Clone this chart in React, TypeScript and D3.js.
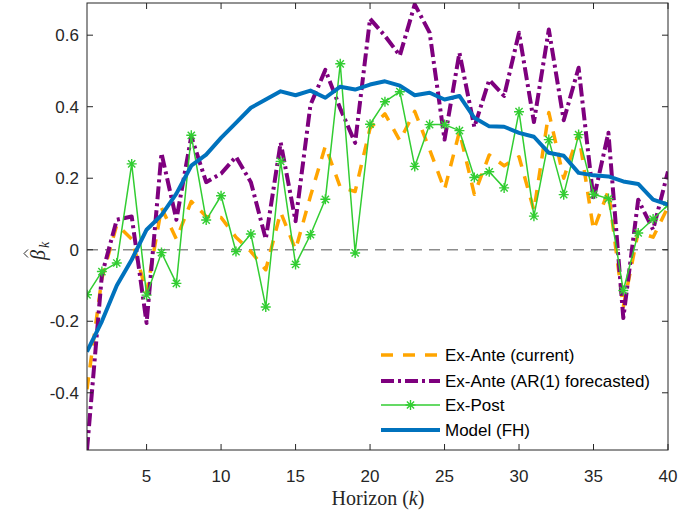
import React from "react";
import * as d3 from "d3";

const horizons = [1,2,3,4,5,6,7,8,9,10,11,12,13,14,15,16,17,18,19,20,21,22,23,24,25,26,27,28,29,30,31,32,33,34,35,36,37,38,39,40];

const exAnteCurrent = [-0.39,-0.08,0.07,0.03,-0.12,0.117,0.03,0.135,0.093,0.09,0.035,-0.005,-0.056,0.105,0.0,0.15,0.29,0.175,0.163,0.34,0.38,0.305,0.387,0.28,0.168,0.33,0.155,0.265,0.235,0.26,0.11,0.384,0.2,0.325,0.055,0.165,-0.16,0.05,0.035,0.12];

const exAnteAR1 = [-0.56,-0.07,0.084,0.093,-0.205,0.27,0.084,0.317,0.189,0.213,0.26,0.189,0.03,0.3,0.08,0.405,0.503,0.395,0.299,0.646,0.598,0.543,0.686,0.607,0.308,0.551,0.343,0.475,0.43,0.607,0.357,0.616,0.362,0.509,0.14,0.327,-0.191,0.14,0.056,0.219];

const exPost = [-0.126,-0.061,-0.037,0.24,-0.127,-0.008,-0.094,0.32,0.083,0.151,-0.005,0.044,-0.16,0.247,-0.041,0.042,0.141,0.52,-0.009,0.351,0.414,0.442,0.233,0.35,0.35,0.333,0.202,0.218,0.173,0.386,0.094,0.308,0.154,0.322,0.155,0.143,-0.114,0.047,0.086,0.125];

const modelFH = [-0.285,-0.2,-0.1,-0.028,0.056,0.097,0.157,0.235,0.266,0.313,0.355,0.397,0.42,0.443,0.432,0.445,0.425,0.456,0.448,0.462,0.471,0.459,0.432,0.439,0.42,0.43,0.369,0.345,0.344,0.327,0.316,0.271,0.263,0.215,0.208,0.205,0.191,0.184,0.14,0.126];

const xTicks = [5,10,15,20,25,30,35,40];
const yTicks = [-0.4,-0.2,0,0.2,0.4,0.6];
const yTickLabels = ["-0.4","-0.2","0","0.2","0.4","0.6"];

const legendLabels = ["Ex-Ante (current)","Ex-Ante (AR(1) forecasted)","Ex-Post","Model (FH)"];

const L = 87, R = 668, T = 3, B = 450;
const axisColor = "#262626";
const sans = "'Liberation Sans', Arial, Helvetica, sans-serif";
const serif = "'Liberation Serif', 'Times New Roman', serif";

const ORANGE = "#FFA500";
const PURPLE = "#7E007E";
const GREEN = "#32CD32";
const BLUE = "#0072BD";

function asterisk(cx: number, cy: number, r: number) {
  const d = r * 0.72;
  return `M${cx - r},${cy}L${cx + r},${cy}M${cx},${cy - r}L${cx},${cy + r}M${cx - d},${cy - d}L${cx + d},${cy + d}M${cx - d},${cy + d}L${cx + d},${cy - d}`;
}

export default function App() {
  const x = d3.scaleLinear().domain([1, 40]).range([L, R]);
  const y = d3.scaleLinear().domain([-0.56, 0.69]).range([B, T]);
  const line = d3.line<number>().x((_, i) => x(horizons[i])).y((v) => y(v));

  const series = [
    { data: exAnteCurrent, color: ORANGE, width: 3.5, dash: "12,10" },
    { data: exAnteAR1, color: PURPLE, width: 4, dash: "13,4,3,4" },
    { data: exPost, color: GREEN, width: 1.5, dash: undefined },
    { data: modelFH, color: BLUE, width: 4, dash: undefined },
  ];

  const legY = [355, 381, 405, 430];
  const legX0 = 381, legX1 = 440;

  return (
    <svg width={680} height={514} style={{ position: "absolute", left: 0, top: 0, background: "#fff" }}>
      <defs>
        <clipPath id="plotclip">
          <rect x={L} y={T} width={R - L} height={B - T} />
        </clipPath>
      </defs>
      <rect x={0} y={0} width={680} height={514} fill="#fff" />
      <line x1={L} x2={R} y1={y(0)} y2={y(0)} stroke="#8c8c8c" strokeWidth={1.3} strokeDasharray="11,7" />
      <g clipPath="url(#plotclip)">
        {series.map((s, k) => (
          <g key={k}>
            <path d={line(s.data) || ""} fill="none" stroke={s.color} strokeWidth={s.width}
              strokeDasharray={s.dash} strokeLinejoin="round" />
            {k === 2 && exPost.map((v, i) => (
              <path key={"m" + i} d={asterisk(x(horizons[i]), y(v), 5)} stroke={GREEN} strokeWidth={1.4} fill="none" />
            ))}
          </g>
        ))}
      </g>
      <rect x={L} y={T} width={R - L} height={B - T} fill="none" stroke={axisColor} strokeWidth={1} />
      {xTicks.map((t) => (
        <g key={"xt" + t}>
          <line x1={x(t)} x2={x(t)} y1={B} y2={B - 6} stroke={axisColor} />
          <line x1={x(t)} x2={x(t)} y1={T} y2={T + 6} stroke={axisColor} />
          <text x={x(t)} y={482} textAnchor="middle" fontFamily={sans} fontSize={17} fill={axisColor}>{t}</text>
        </g>
      ))}
      {yTicks.map((t, i) => (
        <g key={"yt" + i}>
          <line x1={L} x2={L + 6} y1={y(t)} y2={y(t)} stroke={axisColor} />
          <line x1={R} x2={R - 6} y1={y(t)} y2={y(t)} stroke={axisColor} />
          <text x={79} y={y(t) + 6} textAnchor="end" fontFamily={sans} fontSize={17} fill={axisColor}>{yTickLabels[i]}</text>
        </g>
      ))}
      <text x={378} y={505} textAnchor="middle" fontFamily={serif} fontSize={20} fill={axisColor}>
        Horizon (<tspan fontStyle="italic">k</tspan>)
      </text>
      <g transform="translate(45,252) rotate(-90)">
        <text x={-3} y={0} textAnchor="middle" fontFamily={serif} fontSize={20} fontStyle="italic" fill={axisColor}>β</text>
        <path d="M -5.5,-17 L -1.5,-21 L 2.5,-17" fill="none" stroke={axisColor} strokeWidth={1} />
        <text x={4} y={4} fontFamily={serif} fontSize={14} fontStyle="italic" fill={axisColor}>k</text>
      </g>
      {series.map((s, k) => (
        <g key={"lg" + k}>
          <line x1={legX0} x2={legX1} y1={legY[k]} y2={legY[k]} stroke={s.color} strokeWidth={s.width} strokeDasharray={s.dash} />
          {k === 2 && <path d={asterisk((legX0 + legX1) / 2, legY[k], 5)} stroke={GREEN} strokeWidth={1.4} fill="none" />}
          <text x={445} y={legY[k] + 6} fontFamily={sans} fontSize={17} fill="#000">{legendLabels[k]}</text>
        </g>
      ))}
    </svg>
  );
}
